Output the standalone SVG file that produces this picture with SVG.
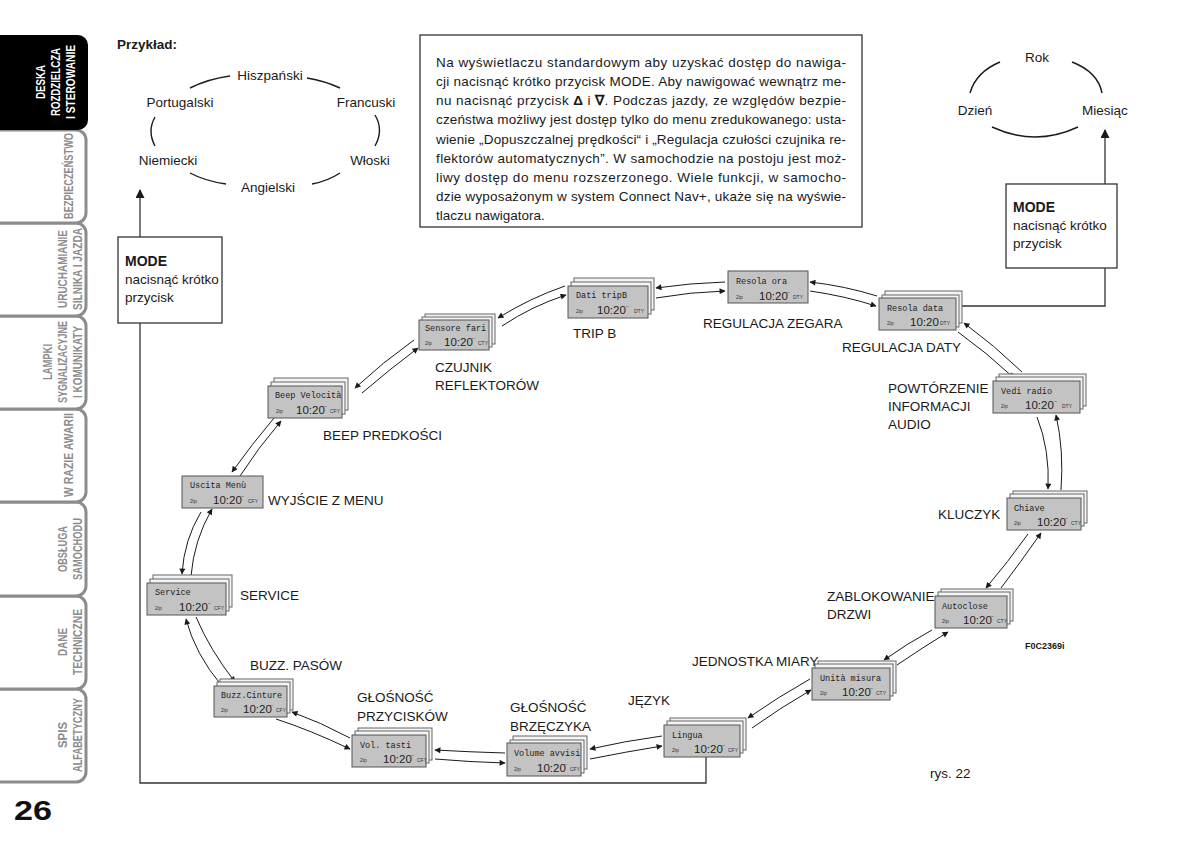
<svg xmlns="http://www.w3.org/2000/svg" xmlns:xlink="http://www.w3.org/1999/xlink" width="1200" height="847" viewBox="0 0 1200 847">
<style>
text{font-family:"Liberation Sans",Arial,sans-serif;fill:#1a1a1a}
.lbl{font-size:13.5px}
.par{font-size:13.5px}
.tab{fill:#fff;stroke:#8c8c8c;stroke-width:3}
.tabt{font-size:13px;font-weight:bold;fill:#8c8c8c}
.bk{fill:#f4f4f4;stroke:#666;stroke-width:1}
.fr{fill:#c3c3c3;stroke:#555;stroke-width:1}
.ct{font-family:"Liberation Mono",monospace;font-size:8.5px;fill:#222}
.tm{font-size:11.5px;fill:#222}
.sm{font-size:5px;fill:#333}
.ln{fill:none;stroke:#1a1a1a;stroke-width:1}
.arc{fill:none;stroke:#1a1a1a;stroke-width:1.4}
.box{fill:#fff;stroke:#333;stroke-width:1.3}
.frame{fill:none;stroke:#333;stroke-width:1.3}
</style>
<defs>
<marker id="ah" viewBox="0 0 10 10" refX="9" refY="5" markerWidth="9" markerHeight="6" markerUnits="userSpaceOnUse" orient="auto"><path d="M0,0 L10,5 L0,10 z" fill="#1a1a1a"/></marker>
<marker id="big" viewBox="0 0 10 10" refX="9" refY="5" markerWidth="14" markerHeight="9" markerUnits="userSpaceOnUse" orient="auto"><path d="M0,0 L10,5 L0,10 z" fill="#1a1a1a"/></marker>
</defs>
<rect width="1200" height="847" fill="#fff"/>

<!-- side tabs -->
<g id="tabs">
<rect class="tab" x="-20" y="689" width="106" height="93" rx="10"/>
<rect class="tab" x="-20" y="596" width="106" height="93" rx="10"/>
<rect class="tab" x="-20" y="502" width="106" height="94" rx="10"/>
<rect class="tab" x="-20" y="409" width="106" height="93" rx="10"/>
<rect class="tab" x="-20" y="316" width="106" height="93" rx="10"/>
<rect class="tab" x="-20" y="223" width="106" height="93" rx="10"/>
<rect class="tab" x="-20" y="130" width="106" height="93" rx="10"/>
<rect x="-20" y="35" width="108" height="95" rx="10" fill="#000"/>
<text class="tabt" style="fill:#fff" transform="translate(45,82) rotate(-90)" text-anchor="middle" textLength="34" lengthAdjust="spacingAndGlyphs">DESKA</text>
<text class="tabt" style="fill:#fff" transform="translate(60,82) rotate(-90)" text-anchor="middle" textLength="68" lengthAdjust="spacingAndGlyphs">ROZDZIELCZA</text>
<text class="tabt" style="fill:#fff" transform="translate(75,82) rotate(-90)" text-anchor="middle" textLength="74" lengthAdjust="spacingAndGlyphs">I STEROWANIE</text>
<text class="tabt" transform="translate(73,176) rotate(-90)" text-anchor="middle" textLength="86" lengthAdjust="spacingAndGlyphs">BEZPIECZEŃSTWO</text>
<text class="tabt" transform="translate(67,269) rotate(-90)" text-anchor="middle" textLength="78" lengthAdjust="spacingAndGlyphs">URUCHAMIANIE</text>
<text class="tabt" transform="translate(82,269) rotate(-90)" text-anchor="middle" textLength="82" lengthAdjust="spacingAndGlyphs">SILNIKA I JAZDA</text>
<text class="tabt" transform="translate(52,362) rotate(-90)" text-anchor="middle" textLength="36" lengthAdjust="spacingAndGlyphs">LAMPKI</text>
<text class="tabt" transform="translate(67,362) rotate(-90)" text-anchor="middle" textLength="82" lengthAdjust="spacingAndGlyphs">SYGNALIZACYJNE</text>
<text class="tabt" transform="translate(82,362) rotate(-90)" text-anchor="middle" textLength="72" lengthAdjust="spacingAndGlyphs">I KOMUNIKATY</text>
<text class="tabt" transform="translate(73,455) rotate(-90)" text-anchor="middle" textLength="84" lengthAdjust="spacingAndGlyphs">W RAZIE AWARII</text>
<text class="tabt" transform="translate(67,549) rotate(-90)" text-anchor="middle" textLength="46" lengthAdjust="spacingAndGlyphs">OBSŁUGA</text>
<text class="tabt" transform="translate(82,549) rotate(-90)" text-anchor="middle" textLength="62" lengthAdjust="spacingAndGlyphs">SAMOCHODU</text>
<text class="tabt" transform="translate(67,642) rotate(-90)" text-anchor="middle" textLength="28" lengthAdjust="spacingAndGlyphs">DANE</text>
<text class="tabt" transform="translate(82,642) rotate(-90)" text-anchor="middle" textLength="66" lengthAdjust="spacingAndGlyphs">TECHNICZNE</text>
<text class="tabt" transform="translate(67,735) rotate(-90)" text-anchor="middle" textLength="26" lengthAdjust="spacingAndGlyphs">SPIS</text>
<text class="tabt" transform="translate(82,735) rotate(-90)" text-anchor="middle" textLength="74" lengthAdjust="spacingAndGlyphs">ALFABETYCZNY</text>
<text x="14" y="820" style="font-size:28px;font-weight:bold;fill:#111" textLength="38" lengthAdjust="spacingAndGlyphs">26</text>
</g>

<!-- top-left example -->
<g id="example-lang">
<text x="117" y="49" style="font-size:13.5px;font-weight:bold">Przykład:</text>
<text class="lbl" x="270" y="80" text-anchor="middle">Hiszpański</text>
<text class="lbl" x="180" y="107" text-anchor="middle">Portugalski</text>
<text class="lbl" x="366" y="107" text-anchor="middle">Francuski</text>
<text class="lbl" x="168" y="165" text-anchor="middle">Niemiecki</text>
<text class="lbl" x="370" y="165" text-anchor="middle">Włoski</text>
<text class="lbl" x="268" y="192" text-anchor="middle">Angielski</text>
<path class="arc" d="M190,88 Q208,79 230,76"/>
<path class="arc" d="M307,78 Q325,81 340,88"/>
<path class="arc" d="M375,115 Q384,130 375,146"/>
<path class="arc" d="M155,117 Q147,131 155,146"/>
<path class="arc" d="M190,173 Q205,181 226,184"/>
<path class="arc" d="M312,184 Q328,181 340,173"/>
</g>

<!-- info box -->
<g id="info">
<rect class="box" x="420" y="35" width="442" height="192"/>
<text class="par" x="436" y="67" textLength="410" lengthAdjust="spacing">Na wyświetlaczu standardowym aby uzyskać dostęp do nawiga-</text>
<text class="par" x="436" y="86" textLength="410" lengthAdjust="spacing">cji nacisnąć krótko przycisk MODE. Aby nawigować wewnątrz me-</text>
<text class="par" x="436" y="105" textLength="410" lengthAdjust="spacing">nu nacisnąć przycisk <tspan font-weight="bold">Δ</tspan> i <tspan font-weight="bold">∇</tspan>. Podczas jazdy, ze względów bezpie-</text>
<text class="par" x="436" y="124" textLength="410" lengthAdjust="spacing">czeństwa możliwy jest dostęp tylko do menu zredukowanego: usta-</text>
<text class="par" x="436" y="144" textLength="410" lengthAdjust="spacing">wienie „Dopuszczalnej prędkości“ i „Regulacja czułości czujnika re-</text>
<text class="par" x="436" y="163" textLength="410" lengthAdjust="spacing">flektorów automatycznych”. W samochodzie na postoju jest moż-</text>
<text class="par" x="436" y="182" textLength="410" lengthAdjust="spacing">liwy dostęp do menu rozszerzonego. Wiele funkcji, w samocho-</text>
<text class="par" x="436" y="201" textLength="410" lengthAdjust="spacing">dzie wyposażonym w system Connect Nav+, ukaże się na wyświe-</text>
<text class="par" x="436" y="220">tlaczu nawigatora.</text>
</g>

<!-- top-right date loop -->
<g id="example-date">
<text class="lbl" x="1037" y="62" text-anchor="middle">Rok</text>
<text class="lbl" x="975" y="115" text-anchor="middle">Dzień</text>
<text class="lbl" x="1105" y="115" text-anchor="middle">Miesiąc</text>
<path class="arc" d="M1000,62 Q976,72 970,93"/>
<path class="arc" d="M1072,62 Q1098,72 1102,93"/>
<path class="arc" d="M992,127 Q1035,147 1078,127"/>
</g>

<!-- MODE boxes -->
<g id="mode-left">
<rect class="box" x="118" y="237" width="104" height="86"/>
<text x="125" y="266" style="font-size:14px;font-weight:bold">MODE</text>
<text class="lbl" x="125" y="284">nacisnąć krótko</text>
<text class="lbl" x="125" y="302">przycisk</text>
</g>
<g id="mode-right">
<rect class="box" x="1006" y="184" width="111" height="84"/>
<text x="1013" y="212" style="font-size:14px;font-weight:bold">MODE</text>
<text class="lbl" x="1013" y="230">nacisnąć krótko</text>
<text class="lbl" x="1013" y="248">przycisk</text>
</g>

<!-- mode paths -->
<g id="mode-links">
<path class="frame" d="M706,757 V783 H140 V323"/>
<path class="frame" d="M140,237 V190" marker-end="url(#big)"/>
<path class="frame" d="M962,306 H1105 V268"/>
<path class="frame" d="M1105,184 V130" marker-end="url(#big)"/>
</g>

<!-- connectors between displays -->
<g id="connectors">
<path class="ln" d="M565,286 Q530,298 498,318" marker-end="url(#ah)"/>
<path class="ln" d="M502,326 Q532,306 566,295" marker-end="url(#ah)"/>
<path class="ln" d="M725,282 Q690,283 656,288" marker-end="url(#ah)"/>
<path class="ln" d="M656,298 Q690,292 725,291" marker-end="url(#ah)"/>
<path class="ln" d="M877,296 Q845,286 810,282" marker-end="url(#ah)"/>
<path class="ln" d="M810,291 Q845,296 876,306" marker-end="url(#ah)"/>
<path class="ln" d="M1022,372 Q994,345 964,323" marker-end="url(#ah)"/>
<path class="ln" d="M958,332 Q986,352 1014,378" marker-end="url(#ah)"/>
<path class="ln" d="M1037,417 Q1050,450 1048,489" marker-end="url(#ah)"/>
<path class="ln" d="M1061,490 Q1064,450 1056,415" marker-end="url(#ah)"/>
<path class="ln" d="M1028,534 Q1008,562 986,588" marker-end="url(#ah)"/>
<path class="ln" d="M1001,588 Q1020,563 1041,533" marker-end="url(#ah)"/>
<path class="ln" d="M932,630 Q908,643 884,660" marker-end="url(#ah)"/>
<path class="ln" d="M897,665 Q922,648 948,632" marker-end="url(#ah)"/>
<path class="ln" d="M810,679 Q778,697 748,718" marker-end="url(#ah)"/>
<path class="ln" d="M752,728 Q780,708 811,690" marker-end="url(#ah)"/>
<path class="ln" d="M662,736 Q625,741 590,749" marker-end="url(#ah)"/>
<path class="ln" d="M590,759 Q625,752 662,746" marker-end="url(#ah)"/>
<path class="ln" d="M505,753 Q470,752 435,750" marker-end="url(#ah)"/>
<path class="ln" d="M435,759 Q470,762 505,763" marker-end="url(#ah)"/>
<path class="ln" d="M350,738 Q320,722 292,712" marker-end="url(#ah)"/>
<path class="ln" d="M276,719 Q310,730 350,749" marker-end="url(#ah)"/>
<path class="ln" d="M196,617 Q210,650 235,682" marker-end="url(#ah)"/>
<path class="ln" d="M222,686 Q195,654 186,619" marker-end="url(#ah)"/>
<path class="ln" d="M201,512 Q184,540 182,574" marker-end="url(#ah)"/>
<path class="ln" d="M191,576 Q194,540 212,509" marker-end="url(#ah)"/>
<path class="ln" d="M274,418 Q252,444 232,472" marker-end="url(#ah)"/>
<path class="ln" d="M240,476 Q258,448 281,421" marker-end="url(#ah)"/>
<path class="ln" d="M414,340 Q383,362 355,388" marker-end="url(#ah)"/>
<path class="ln" d="M362,393 Q390,369 418,348" marker-end="url(#ah)"/>
</g>

<!-- display nodes -->
<g id="n-sensore">
<rect class="bk" x="425" y="314" width="70" height="30"/>
<rect class="bk" x="422" y="317" width="70" height="30"/>
<rect class="fr" x="419" y="320" width="70" height="30"/>
<text class="ct" x="425" y="331">Sensore fari</text>
<text class="sm" x="425" y="345">2ip</text><text class="tm" x="444" y="346">10:20</text><text class="sm" x="472" y="340">‒</text><text class="sm" x="478" y="345">CTY</text>
</g>
<g id="n-tripb">
<rect class="bk" x="574" y="278" width="80" height="32"/>
<rect class="bk" x="571" y="282" width="80" height="32"/>
<rect class="fr" x="568" y="286" width="80" height="32"/>
<text class="ct" x="576" y="298">Dati tripB</text>
<text class="sm" x="576" y="313">2ip</text><text class="tm" x="597" y="314">10:20</text><text class="sm" x="626" y="308">‒</text><text class="sm" x="634" y="313">DTY</text>
</g>
<g id="n-ora">
<rect class="fr" x="728" y="271" width="80" height="32"/>
<text class="ct" x="736" y="284">Resola ora</text>
<text class="sm" x="736" y="299">2ip</text><text class="tm" x="759" y="300">10:20</text><text class="sm" x="787" y="294">‒</text><text class="sm" x="793" y="299">DTY</text>
</g>
<g id="n-data">
<rect class="bk" x="885" y="291" width="77" height="32"/>
<rect class="bk" x="882" y="295" width="77" height="32"/>
<rect class="fr" x="879" y="298" width="77" height="32"/>
<text class="ct" x="887" y="311">Resola data</text>
<text class="sm" x="887" y="325">2ip</text><text class="tm" x="910" y="326">10:20</text><text class="sm" x="940" y="325">DTY</text>
</g>
<g id="n-radio">
<rect class="bk" x="999" y="374" width="87" height="32"/>
<rect class="bk" x="996" y="377" width="87" height="32"/>
<rect class="fr" x="993" y="381" width="87" height="32"/>
<text class="ct" x="1001" y="394">Vedi radio</text>
<text class="sm" x="1001" y="408">2ip</text><text class="tm" x="1025" y="409">10:20</text><text class="sm" x="1054" y="403">‒</text><text class="sm" x="1062" y="408">DTY</text>
</g>
<g id="n-chiave">
<rect class="bk" x="1013" y="491" width="74" height="32"/>
<rect class="bk" x="1010" y="494" width="74" height="32"/>
<rect class="fr" x="1007" y="498" width="74" height="32"/>
<text class="ct" x="1014" y="511">Chiave</text>
<text class="sm" x="1014" y="525">2ip</text><text class="tm" x="1037" y="526">10:20</text><text class="sm" x="1065" y="520">‒</text><text class="sm" x="1071" y="525">CTY</text>
</g>
<g id="n-autoclose">
<rect class="bk" x="941" y="589" width="72" height="32"/>
<rect class="bk" x="938" y="592" width="72" height="32"/>
<rect class="fr" x="935" y="596" width="72" height="32"/>
<text class="ct" x="942" y="609">Autoclose</text>
<text class="sm" x="942" y="623">2ip</text><text class="tm" x="963" y="624">10:20</text><text class="sm" x="991" y="618">‒</text><text class="sm" x="997" y="623">CTY</text>
</g>
<g id="n-unita">
<rect class="bk" x="818" y="661" width="78" height="32"/>
<rect class="bk" x="815" y="664" width="78" height="32"/>
<rect class="fr" x="812" y="668" width="78" height="32"/>
<text class="ct" x="820" y="681">Unità misura</text>
<text class="sm" x="820" y="695">2ip</text><text class="tm" x="842" y="696">10:20</text><text class="sm" x="870" y="690">‒</text><text class="sm" x="876" y="695">CTY</text>
</g>
<g id="n-lingua">
<rect class="bk" x="670" y="718" width="76" height="32"/>
<rect class="bk" x="667" y="721" width="76" height="32"/>
<rect class="fr" x="664" y="725" width="76" height="32"/>
<text class="ct" x="672" y="738">Lingua</text>
<text class="sm" x="672" y="752">2ip</text><text class="tm" x="694" y="753">10:20</text><text class="sm" x="722" y="747">‒</text><text class="sm" x="728" y="752">CFY</text>
</g>
<g id="n-avvisi">
<rect class="bk" x="513" y="736" width="74" height="33"/>
<rect class="bk" x="510" y="740" width="74" height="33"/>
<rect class="fr" x="507" y="743" width="74" height="33"/>
<text class="ct" x="514" y="756">Volume avvisi</text>
<text class="sm" x="514" y="771">2ip</text><text class="tm" x="537" y="772">10:20</text><text class="sm" x="564" y="766">‒</text><text class="sm" x="570" y="771">CFY</text>
</g>
<g id="n-tasti">
<rect class="bk" x="358" y="728" width="74" height="32"/>
<rect class="bk" x="355" y="731" width="74" height="32"/>
<rect class="fr" x="352" y="735" width="74" height="32"/>
<text class="ct" x="360" y="748">Vol. tasti</text>
<text class="sm" x="360" y="762">2ip</text><text class="tm" x="383" y="763">10:20</text><text class="sm" x="411" y="757">‒</text><text class="sm" x="417" y="762">CFY</text>
</g>
<g id="n-buzz">
<rect class="bk" x="220" y="679" width="73" height="31"/>
<rect class="bk" x="217" y="682" width="73" height="31"/>
<rect class="fr" x="214" y="686" width="73" height="31"/>
<text class="ct" x="221" y="698">Buzz.Cinture</text>
<text class="sm" x="221" y="712">2ip</text><text class="tm" x="243" y="713">10:20</text><text class="sm" x="270" y="707">‒</text><text class="sm" x="276" y="712">CFY</text>
</g>
<g id="n-service">
<rect class="bk" x="153" y="575" width="79" height="32"/>
<rect class="bk" x="150" y="579" width="79" height="32"/>
<rect class="fr" x="147" y="583" width="79" height="32"/>
<text class="ct" x="155" y="595">Service</text>
<text class="sm" x="155" y="610">2ip</text><text class="tm" x="179" y="611">10:20</text><text class="sm" x="208" y="605">‒</text><text class="sm" x="214" y="610">CFY</text>
</g>
<g id="n-uscita">
<rect class="fr" x="182" y="476" width="81" height="32"/>
<text class="ct" x="190" y="488">Uscita Menù</text>
<text class="sm" x="190" y="503">2ip</text><text class="tm" x="213" y="504">10:20</text><text class="sm" x="241" y="498">‒</text><text class="sm" x="248" y="503">CFY</text>
</g>
<g id="n-beep">
<rect class="bk" x="274" y="378" width="74" height="32"/>
<rect class="bk" x="271" y="382" width="74" height="32"/>
<rect class="fr" x="268" y="386" width="74" height="32"/>
<text class="ct" x="275" y="398">Beep Velocità</text>
<text class="sm" x="276" y="413">2ip</text><text class="tm" x="296" y="414">10:20</text><text class="sm" x="324" y="408">‒</text><text class="sm" x="330" y="413">CFY</text>
</g>

<!-- labels -->
<g id="labels">
<text class="lbl" x="573" y="338">TRIP B</text>
<text class="lbl" x="703" y="328">REGULACJA ZEGARA</text>
<text class="lbl" x="842" y="352">REGULACJA DATY</text>
<text class="lbl" x="888" y="393">POWTÓRZENIE</text>
<text class="lbl" x="888" y="411">INFORMACJI</text>
<text class="lbl" x="888" y="429">AUDIO</text>
<text class="lbl" x="938" y="519">KLUCZYK</text>
<text class="lbl" x="827" y="601">ZABLOKOWANIE</text>
<text class="lbl" x="827" y="619">DRZWI</text>
<text x="1025" y="649" style="font-size:9px;font-weight:bold">F0C2369i</text>
<text class="lbl" x="692" y="666">JEDNOSTKA MIARY</text>
<text class="lbl" x="628" y="705">JĘZYK</text>
<text class="lbl" x="510" y="712">GŁOŚNOŚĆ</text>
<text class="lbl" x="510" y="731">BRZĘCZYKA</text>
<text class="lbl" x="357" y="702">GŁOŚNOŚĆ</text>
<text class="lbl" x="357" y="721">PRZYCISKÓW</text>
<text class="lbl" x="250" y="670">BUZZ. PASÓW</text>
<text class="lbl" x="240" y="600">SERVICE</text>
<text class="lbl" x="268" y="505">WYJŚCIE Z MENU</text>
<text class="lbl" x="323" y="440">BEEP PREDKOŚCI</text>
<text class="lbl" x="435" y="372">CZUJNIK</text>
<text class="lbl" x="435" y="390">REFLEKTORÓW</text>
<text class="lbl" x="930" y="778">rys. 22</text>
</g>
</svg>
